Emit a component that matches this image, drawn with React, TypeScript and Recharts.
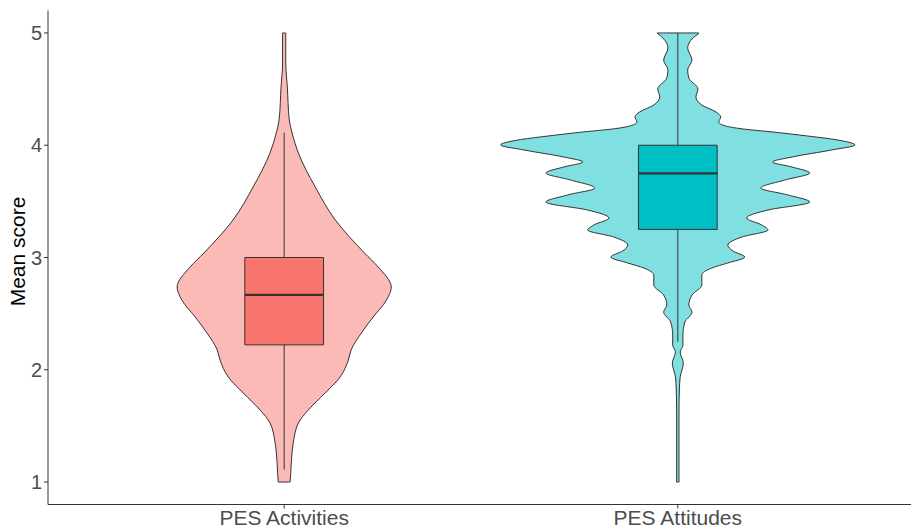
import React from "react";
import { ScatterChart, Scatter, XAxis, YAxis, Label } from "recharts";

// ---- Categories ----
const categories = ["PES Activities", "PES Attitudes"];
const categoryPositions = [1, 2];

// ---- Y ticks ----
const yTicks = [1, 2, 3, 4, 5];

// ---- Violin outlines (score, half-width in category units), top -> bottom ----
const activitiesScores = [5.0, 4.733, 4.519, 4.225, 4.11, 3.931, 3.628, 3.334, 3.04, 2.915, 2.737, 2.621, 2.47, 2.327, 2.176, 2.087, 1.935, 1.793, 1.641, 1.526, 1.347, 1.169, 1.0];
const activitiesHalfWidths = [0.004, 0.004, 0.008, 0.013, 0.02, 0.036, 0.079, 0.13, 0.204, 0.239, 0.272, 0.26, 0.226, 0.196, 0.17, 0.163, 0.142, 0.104, 0.061, 0.036, 0.023, 0.018, 0.015];

const attitudesScores = [5.0, 4.955, 4.866, 4.759, 4.67, 4.599, 4.501, 4.43, 4.358, 4.296, 4.252, 4.207, 4.171, 4.145, 4.118, 4.082, 4.046, 4.002, 3.958, 3.895, 3.851, 3.806, 3.753, 3.69, 3.619, 3.557, 3.494, 3.423, 3.352, 3.29, 3.245, 3.183, 3.111, 3.058, 3.004, 2.951, 2.906, 2.844, 2.755, 2.666, 2.577, 2.514, 2.425, 2.31, 2.22, 2.158, 2.06, 1.935, 1.82, 1.641, 1.0];
const attitudesHalfWidths = [0.053, 0.038, 0.025, 0.036, 0.025, 0.028, 0.051, 0.046, 0.061, 0.097, 0.109, 0.104, 0.122, 0.165, 0.241, 0.33, 0.407, 0.45, 0.391, 0.29, 0.241, 0.29, 0.335, 0.272, 0.211, 0.28, 0.335, 0.229, 0.175, 0.213, 0.229, 0.163, 0.127, 0.14, 0.17, 0.127, 0.086, 0.061, 0.061, 0.036, 0.028, 0.036, 0.018, 0.013, 0.013, 0.006, 0.014, 0.006, 0.004, 0.003, 0.003];

// ---- Box plot statistics per category ----
const whiskerLow = [1.111, 2.25];
const q1 = [2.222, 3.25];
const medians = [2.667, 3.75];
const q3 = [3.0, 4.0];
const whiskerHigh = [4.111, 5.0];

// ---- Styles ----
const violinFills = ["#FBBAB6", "#80DFE1"];
const boxFills = ["#F8766D", "#00BFC4"];
const outline = "#333333";
const BOX_HALF = 0.1;
const FONT = "'Liberation Sans', Arial, Helvetica, sans-serif";

type Pt = { x: number; y: number };

function violinPolygon(center: number, scores: number[], hw: number[]): Pt[] {
  const left = scores.map((s, i) => ({ x: center - hw[i], y: s }));
  const right = scores.map((s, i) => ({ x: center + hw[i], y: s })).reverse();
  return [...left, ...right, left[0]];
}

const violins = [
  violinPolygon(categoryPositions[0], activitiesScores, activitiesHalfWidths),
  violinPolygon(categoryPositions[1], attitudesScores, attitudesHalfWidths),
];

const whiskers = categoryPositions.map((c, i) => [
  { x: c, y: whiskerLow[i] },
  { x: c, y: whiskerHigh[i] },
]);

const boxes = categoryPositions.map((c, i) => [
  { x: c - BOX_HALF, y: q1[i] },
  { x: c - BOX_HALF, y: q3[i] },
  { x: c + BOX_HALF, y: q3[i] },
  { x: c + BOX_HALF, y: q1[i] },
  { x: c - BOX_HALF, y: q1[i] },
]);

const medianLines = categoryPositions.map((c, i) => [
  { x: c - BOX_HALF, y: medians[i] },
  { x: c + BOX_HALF, y: medians[i] },
]);

const noDot = () => <g />;

const renderYLabel = (props: any) => {
  const vb = props.viewBox || { x: 0, y: 0, width: 48, height: 494 };
  const cx = vb.x + 17;
  const cy = vb.y + vb.height / 2 - 6;
  return (
    <text
      x={cx}
      y={cy}
      transform={`rotate(-90, ${cx}, ${cy})`}
      textAnchor="middle"
      dominantBaseline="central"
      fontSize={21}
      fill="#000000"
      fontFamily={FONT}
    >
      Mean score
    </text>
  );
};

export default function App() {
  return (
    <div style={{ position: "absolute", left: 0, top: 0, width: 911, height: 529, overflow: "hidden", background: "#fff" }}>
      <ScatterChart width={914} height={529} margin={{ top: 10.5, right: 0, bottom: 0, left: 0 }}>
        <XAxis
          type="number"
          dataKey="x"
          domain={[0.4, 2.6]}
          ticks={categoryPositions}
          tickFormatter={(v: number) => categories[Math.round(v) - 1] ?? ""}
          allowDataOverflow
          height={24.5}
          stroke={outline}
          tickSize={4}
          tick={{ fill: "#4D4D4D", fontSize: 21, fontFamily: FONT }}
          interval={0}
        />
        <YAxis
          type="number"
          dataKey="y"
          domain={[0.8, 5.2]}
          ticks={yTicks}
          allowDataOverflow
          width={48}
          stroke={outline}
          tickSize={4}
          tick={{ fill: "#4D4D4D", fontSize: 20, fontFamily: FONT }}
          interval={0}
        >
          <Label content={renderYLabel} />
        </YAxis>
        {violins.map((pts, i) => (
          <Scatter
            key={`violin-${i}`}
            data={pts}
            shape={noDot}
            line={{ fill: violinFills[i], stroke: outline, strokeWidth: 1 }}
            lineJointType="monotoneY"
            isAnimationActive={false}
          />
        ))}
        {whiskers.map((pts, i) => (
          <Scatter
            key={`whisker-${i}`}
            data={pts}
            shape={noDot}
            line={{ stroke: outline, strokeWidth: 1, fill: "none" }}
            isAnimationActive={false}
          />
        ))}
        {boxes.map((pts, i) => (
          <Scatter
            key={`box-${i}`}
            data={pts}
            shape={noDot}
            line={{ fill: boxFills[i], stroke: outline, strokeWidth: 1 }}
            isAnimationActive={false}
          />
        ))}
        {medianLines.map((pts, i) => (
          <Scatter
            key={`median-${i}`}
            data={pts}
            shape={noDot}
            line={{ stroke: outline, strokeWidth: 2.3, fill: "none" }}
            isAnimationActive={false}
          />
        ))}
      </ScatterChart>
    </div>
  );
}
